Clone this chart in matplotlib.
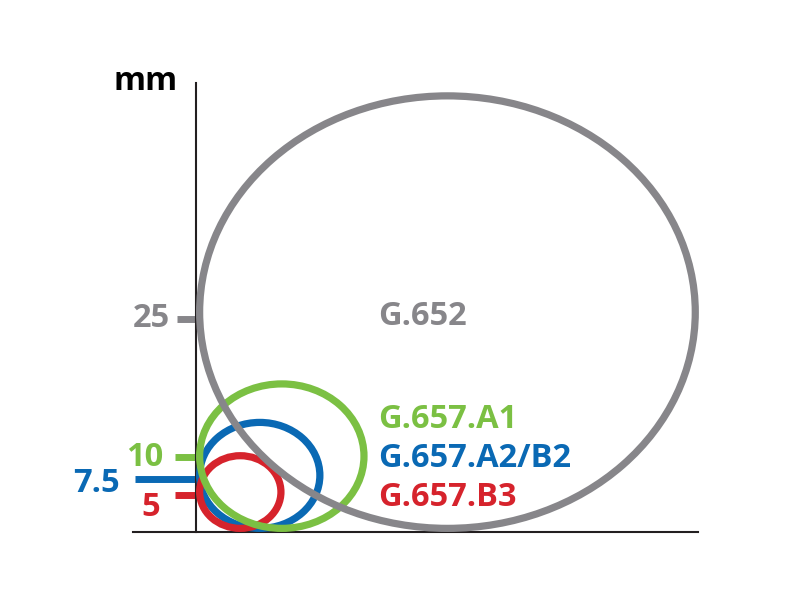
import matplotlib.pyplot as plt
from matplotlib.patches import Ellipse

# fibre types and their minimum bend radius (mm)
fibres = ['G.652', 'G.657.A1', 'G.657.A2/B2', 'G.657.B3']
bend_radius_mm = ['25', '10', '7.5', '5']
colors = ['#87868a', '#7bc043', '#0a69b4', '#d6232c']

# drawn ring sizes (diagram is not to scale), in chart units
ring_w = [57.3, 19.0, 13.9, 9.4]
ring_h = [50.0, 16.7, 12.25, 8.4]
# height where each radius tick sits on the axis
tick_y = [24.68, 8.67, 6.07, 4.28]
tick_len = [2.2, 2.43, 7.05, 2.43]

# text placement for tick labels: (right edge x, baseline y)
tick_label_pos = [(-3.0, 23.66), (-3.8, 7.63), (-8.8, 4.62), (-4.16, 1.85)]
# fibre name labels: (left x, baseline y)
name_pos = [(21.1, 23.93), (21.1, 12.02), (21.1, 7.51), (21.1, 3.0)]

px = 8.65  # pixels per chart unit
pad = 0.42  # half stroke so rings sit on the axes

fig = plt.figure(figsize=(8, 6), dpi=100)
ax = fig.add_axes([0, 0, 1, 1])
ax.set_xlim(-196 / px, 604 / px)
ax.set_ylim(-68 / px, 532 / px)

for sp in ['top', 'right']:
    ax.spines[sp].set_visible(False)
ax.spines['left'].set_position(('data', 0))
ax.spines['bottom'].set_position(('data', 0))
ax.spines['left'].set_bounds(0, 51.9)
ax.spines['bottom'].set_bounds(-7.28, 58.0)
for sp in ['left', 'bottom']:
    ax.spines[sp].set_linewidth(1.5)
    ax.spines[sp].set_color('#231f20')
ax.set_xticks([])
ax.set_yticks([])
ax.patch.set_visible(False)

font = dict(family=['Open Sans', 'DejaVu Sans'], weight='bold', fontsize=23.5)

zorders = [6, 5, 3, 4]
for i in range(len(fibres)):
    w, h = ring_w[i], ring_h[i]
    ring = Ellipse((pad + w / 2, pad + h / 2), w, h, fill=False,
                   edgecolor=colors[i], linewidth=5.2, zorder=zorders[i])
    ax.add_patch(ring)
    ax.hlines(tick_y[i], -tick_len[i], 0, color=colors[i], linewidth=5,
              zorder=2)
    tx, ty = tick_label_pos[i]
    ax.text(tx, ty, bend_radius_mm[i], color=colors[i], ha='right',
            va='baseline', **font)
    nx, ny = name_pos[i]
    ax.text(nx, ny, fibres[i], color=colors[i], ha='left', va='baseline',
            **font)

ax.text(-5.78, 51.1, 'mm', color='black', ha='center', va='baseline', **font)

fig.savefig('out.png', dpi=100)
